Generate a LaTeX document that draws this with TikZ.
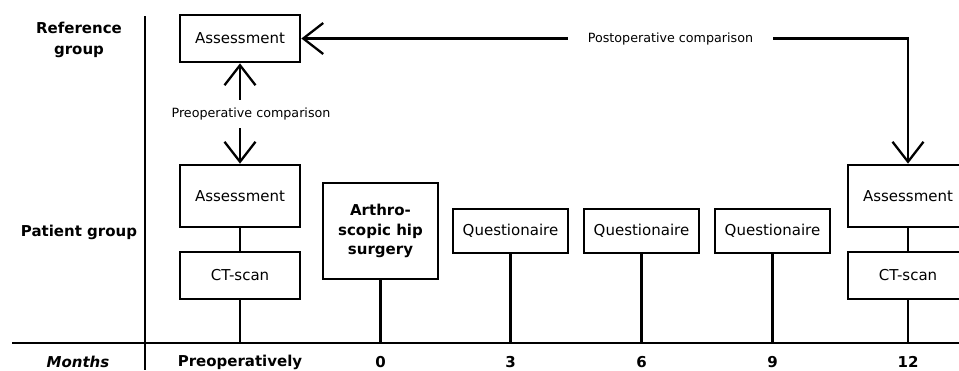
\documentclass[tikz,border=0pt]{standalone}
\usepackage{fontspec}
\setmainfont{DejaVu Sans}
\usetikzlibrary{arrows.meta}
\begin{document}
\begin{tikzpicture}[x=1pt,y=-1pt,
  every node/.style={font=\fontsize{15}{20}\selectfont},
  box/.style={draw, line width=2.7pt, minimum width=120pt, minimum height=47pt, inner sep=0pt, align=center, fill=white},
  conn/.style={line width=2.3pt},
  biarrow/.style={line width=2.3pt, {Straight Barb[length=20pt,width=31pt]}-{Straight Barb[length=20pt,width=31pt]}},
  axisline/.style={line width=1.5pt},
  rowlabel/.style={font=\bfseries\fontsize{15}{21}\selectfont, align=center},
  ticklabel/.style={font=\bfseries\fontsize{15}{20}\selectfont},
  smalllabel/.style={font=\fontsize{12.7}{15}\selectfont, fill=white, inner sep=0pt}
]
\useasboundingbox (0,0) rectangle (959,370);

% axes
\coordinate (axL) at (12,343);
\coordinate (axR) at (959,343);
\coordinate (vT) at (145,16);
\coordinate (vB) at (145,370);
\draw[axisline] (axL) -- (axR);
\draw[axisline] (vT) -- (vB);

% row labels
\node[rowlabel] (lref) at (79,39.5) {Reference\\group};
\node[rowlabel] (lpat) at (79,232) {Patient group};
\node[font=\bfseries\itshape\fontsize{15}{20}\selectfont] (lmon) at (78,362) {Months};

% tick labels
\node[ticklabel] (tpre) at (240,362) {Preoperatively};
\node[ticklabel] (t0l) at (380.5,362) {0};
\node[ticklabel] (t3l) at (510.5,362) {3};
\node[ticklabel] (t6l) at (641.5,362) {6};
\node[ticklabel] (t9l) at (772.5,362) {9};
\node[ticklabel] (t12l) at (908,362) {12};

% axis coordinates
\coordinate (apre) at (240,343);
\coordinate (a0) at (380.5,343);
\coordinate (a3) at (510.5,343);
\coordinate (a6) at (641.5,343);
\coordinate (a9) at (772.5,343);
\coordinate (a12) at (908,343);

% boxes
\node[box] (ra) at (240,38.5) {Assessment};
\node[box, minimum height=62pt] (pa) at (240,196) {Assessment};
\node[box] (pct) at (240,275.5) {CT-scan};
\node[box, minimum width=115pt, minimum height=96pt, font=\bfseries\fontsize{15}{19.5}\selectfont] (surg) at (380.5,231) {Arthro-\\scopic hip\\surgery};
\node[box, minimum width=115pt, minimum height=44pt] (q3) at (510.5,231) {Questionaire};
\node[box, minimum width=115pt, minimum height=44pt] (q6) at (641.5,231) {Questionaire};
\node[box, minimum width=115pt, minimum height=44pt] (q9) at (772.5,231) {Questionaire};
\node[box, minimum height=62pt] (pa12) at (908,196) {Assessment};
\node[box] (pct12) at (908,275.5) {CT-scan};

% connectors
\draw[conn] (pa.south) -- (pct.north);
\draw[conn] (pct.south) -- (apre);
\draw[conn] (surg.south) -- (a0);
\draw[conn] (q3.south) -- (a3);
\draw[conn] (q6.south) -- (a6);
\draw[conn] (q9.south) -- (a9);
\draw[conn] (pa12.south) -- (pct12.north);
\draw[conn] (pct12.south) -- (a12);

% comparisons
\draw[biarrow] (ra.south) -- (pa.north);
\node[smalllabel, minimum height=28pt, inner xsep=2pt] (prelab) at (251,114) {Preoperative comparison};
\draw[biarrow] (ra.east) -| (pa12.north);
\node[smalllabel, minimum width=205pt, minimum height=8pt] (postlab) at (670.5,38.5) {Postoperative comparison};
\end{tikzpicture}
\end{document}
